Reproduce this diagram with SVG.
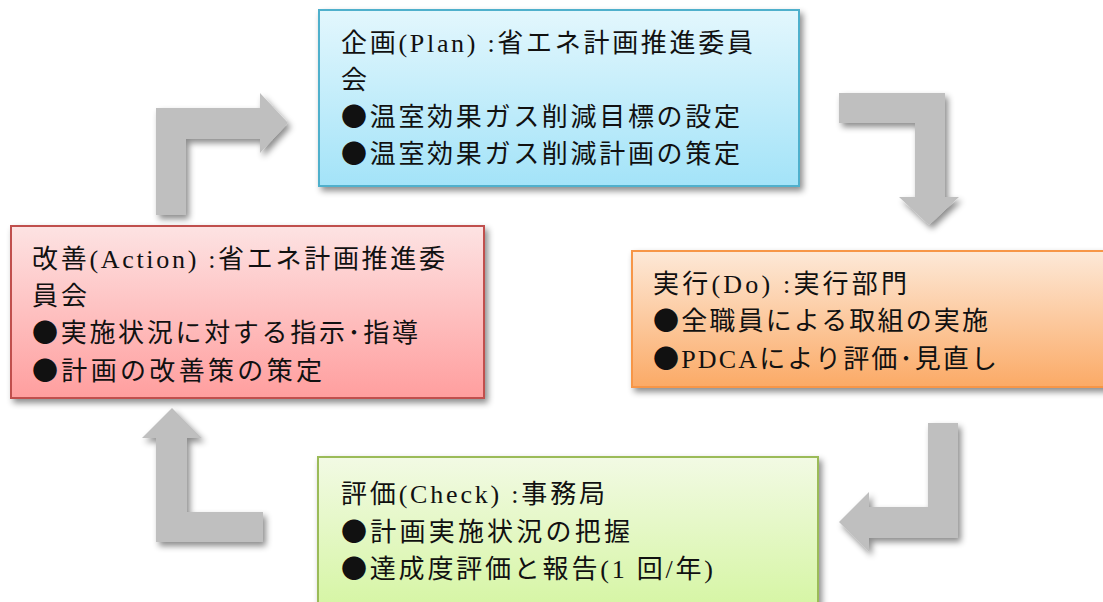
<svg xmlns="http://www.w3.org/2000/svg" width="1103" height="602" viewBox="0 0 1103 602">
<defs>
<filter id="sh" x="-20%" y="-20%" width="150%" height="150%">
<feDropShadow dx="3" dy="4" stdDeviation="3" flood-color="#000" flood-opacity="0.45"/>
</filter>
<linearGradient id="gPlan" x1="0" y1="0" x2="0" y2="1"><stop offset="0" stop-color="#e3f7fd"/><stop offset="1" stop-color="#a3e3f8"/></linearGradient>
<linearGradient id="gDo" x1="0" y1="0" x2="0" y2="1"><stop offset="0" stop-color="#fde9d8"/><stop offset="1" stop-color="#fbaa66"/></linearGradient>
<linearGradient id="gAct" x1="0" y1="0" x2="0" y2="1"><stop offset="0" stop-color="#fde3e3"/><stop offset="1" stop-color="#ff9e9e"/></linearGradient>
<linearGradient id="gChk" x1="0" y1="0" x2="0" y2="1"><stop offset="0" stop-color="#f2fae4"/><stop offset="1" stop-color="#d4f5a0"/></linearGradient>
</defs>
<style>
.t{font-family:"Liberation Serif","Noto Sans CJK JP",serif;font-size:26px;fill:#111;}
.b{font-family:"Noto Sans CJK JP",sans-serif;}
.box{stroke-width:2;filter:url(#sh);}
.arr{fill:#bfbfbf;filter:url(#sh);}
</style>
<g id="connectors">
<polygon class="arr" points="156,215 156,108 260,108 260,93 288,123 260,153 260,139 186,139 186,215"/>
<polygon class="arr" points="839,93 945,93 945,197 959,197 929,225 899,197 915,197 915,123 839,123"/>
<polygon class="arr" points="928,423 958,423 958,538 869,538 869,552 839,522 869,492 869,507 928,507"/>
<polygon class="arr" points="263,542 156,542 156,438 142,438 172,408 202,438 187,438 187,512 263,512"/>
</g>
<g id="plan">
<rect class="box" x="319" y="10" width="480" height="176" fill="url(#gPlan)" stroke="#4fb0cc"/>
<text class="t" x="341" y="52" textLength="412" lengthAdjust="spacing">企画(Plan) :省エネ計画推進委員</text>
<text class="t" x="341" y="89">会</text>
<text class="t" x="341" y="126" textLength="399" lengthAdjust="spacing"><tspan class="b">●</tspan>温室効果ガス削減目標の設定</text>
<text class="t" x="341" y="163" textLength="399" lengthAdjust="spacing"><tspan class="b">●</tspan>温室効果ガス削減計画の策定</text>
</g>
<g id="do">
<rect class="box" x="632" y="251" width="480" height="136" fill="url(#gDo)" stroke="#f79646"/>
<text class="t" x="653" y="293" textLength="254" lengthAdjust="spacing">実行(Do) :実行部門</text>
<text class="t" x="653" y="330" textLength="335" lengthAdjust="spacing"><tspan class="b">●</tspan>全職員による取組の実施</text>
<text class="t" x="653" y="368" textLength="344" lengthAdjust="spacing"><tspan class="b">●</tspan>PDCAにより評価<tspan class="b">･</tspan>見直し</text>
</g>
<g id="check">
<rect class="box" x="318" y="457" width="500" height="160" fill="url(#gChk)" stroke="#9bbb59"/>
<text class="t" x="341" y="503" textLength="264" lengthAdjust="spacing">評価(Check) :事務局</text>
<text class="t" x="341" y="541" textLength="289" lengthAdjust="spacing"><tspan class="b">●</tspan>計画実施状況の把握</text>
<text class="t" x="341" y="578" textLength="372" lengthAdjust="spacing"><tspan class="b">●</tspan>達成度評価と報告(1 回/年)</text>
</g>
<g id="action">
<rect class="box" x="11" y="226" width="473" height="172" fill="url(#gAct)" stroke="#c0504d"/>
<text class="t" x="32" y="268" textLength="413" lengthAdjust="spacing">改善(Action) :省エネ計画推進委</text>
<text class="t" x="32" y="305" textLength="55" lengthAdjust="spacing">員会</text>
<text class="t" x="32" y="342" textLength="386" lengthAdjust="spacing"><tspan class="b">●</tspan>実施状況に対する指示<tspan class="b">･</tspan>指導</text>
<text class="t" x="32" y="380" textLength="290" lengthAdjust="spacing"><tspan class="b">●</tspan>計画の改善策の策定</text>
</g>
</svg>
